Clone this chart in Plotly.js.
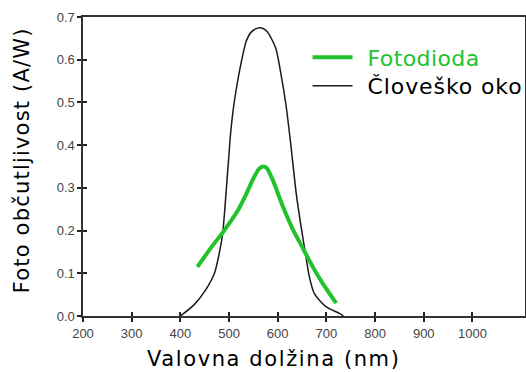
<!DOCTYPE html>
<html><head><meta charset="utf-8">
<script src="https://cdn.plot.ly/plotly-3.0.1.min.js"></script>
<style>html,body{margin:0;padding:0;background:#fff;}#chart{width:526px;height:372px;}</style>
</head><body><div id="chart"></div>
<script>
// Človeško oko (human eye) sensitivity curve
const eyeWavelength = [400, 428, 452, 470, 480, 487, 491, 495, 499, 503, 508, 514, 524, 535, 545, 559, 570, 579, 596, 607, 617, 627, 638, 648, 658, 665, 675, 699, 727, 735];
const eyeValue      = [0.0, 0.026, 0.061, 0.100, 0.147, 0.194, 0.245, 0.305, 0.365, 0.425, 0.478, 0.525, 0.588, 0.642, 0.664, 0.674, 0.673, 0.665, 0.627, 0.564, 0.494, 0.400, 0.287, 0.209, 0.139, 0.092, 0.053, 0.022, 0.006, 0.0];
// Fotodioda (photodiode) responsivity
const diodeWavelength = [435, 463, 490, 517, 535, 550, 562, 570, 577, 590, 610, 631, 651, 672, 692, 720];
const diodeValue      = [0.115, 0.160, 0.200, 0.245, 0.285, 0.322, 0.345, 0.350, 0.347, 0.318, 0.258, 0.203, 0.160, 0.115, 0.077, 0.030];
const xTicks = [200, 300, 400, 500, 600, 700, 800, 900, 1000];
const yTicks = [0.0, 0.1, 0.2, 0.3, 0.4, 0.5, 0.6, 0.7];
const names = ['Fotodioda', 'Človeško oko'];
const xTitle = 'Valovna dolžina (nm)';
const yTitle = 'Foto občutljivost (A/W)';

const green = '#22c22c';
const traces = [
  {x: eyeWavelength, y: eyeValue, name: names[1], type: 'scatter', mode: 'lines',
   line: {color: '#1a1a1a', width: 1.5, shape: 'spline', smoothing: 0.7}, legendrank: 2},
  {x: diodeWavelength, y: diodeValue, name: names[0], type: 'scatter', mode: 'lines',
   line: {color: green, width: 4, shape: 'spline', smoothing: 0.5}, legendrank: 1},
  // invisible trace to carry the inside ticks
  {x: [200], y: [0], xaxis: 'x2', yaxis: 'y2', mode: 'markers', marker: {opacity: 0}, showlegend: false, hoverinfo: 'skip'}
];
const tickFont = {family: 'Liberation Sans, Arial, sans-serif', size: 13, color: '#444'};
const layout = {
  width: 526, height: 372,
  margin: {l: 83, r: 1, t: 17, b: 56},
  paper_bgcolor: '#fff', plot_bgcolor: '#fff',
  showlegend: true,
  legend: {x: 0.508, y: 0.935, xanchor: 'left', yanchor: 'top', bgcolor: 'rgba(0,0,0,0)',
           font: {family: 'DejaVu Sans, sans-serif', size: 22, color: '#000'}, itemwidth: 40, tracegroupgap: 0},
  xaxis: {range: [200, 1108], tickvals: xTicks, ticktext: xTicks.map(String), ticks: 'outside', ticklen: 4,
          tickwidth: 2, tickcolor: '#222', showline: true, linecolor: '#333', linewidth: 1.6, mirror: true,
          showgrid: false, zeroline: false, tickfont: tickFont, ticklabelstandoff: 1},
  yaxis: {range: [0, 0.7], tickvals: yTicks, tickformat: '.1f', ticks: 'outside', ticklen: 4,
          tickwidth: 2, tickcolor: '#222', showline: true, linecolor: '#333', linewidth: 1.6, mirror: true,
          showgrid: false, zeroline: false, tickfont: tickFont},
  xaxis2: {overlaying: 'x', matches: 'x', range: [200, 1108], tickvals: xTicks.slice(1), ticks: 'inside', ticklen: 4,
           tickwidth: 2, tickcolor: '#222', showticklabels: false, showgrid: false, zeroline: false, showline: false},
  yaxis2: {overlaying: 'y', anchor: 'x2', range: [0, 0.7], tickvals: yTicks.slice(1, 7), ticks: 'inside', ticklen: 4,
           tickwidth: 2, tickcolor: '#222', showticklabels: false, showgrid: false, zeroline: false, showline: false},
  annotations: [
    {text: xTitle, xref: 'paper', yref: 'paper', x: (273 - 83) / 442, y: -0.143, xanchor: 'center', yanchor: 'middle',
     showarrow: false, font: {family: 'DejaVu Sans, sans-serif', size: 21, color: '#000'}},
    {text: yTitle, xref: 'paper', yref: 'paper', x: (22 - 83) / 442, y: 0.52, xanchor: 'center', yanchor: 'middle',
     textangle: -90, showarrow: false, font: {family: 'DejaVu Sans, sans-serif', size: 21, color: '#000'}}
  ]
};
Plotly.newPlot('chart', traces, layout, {staticPlot: true}).then(() => {
  document.querySelectorAll('.legend [clip-path]').forEach(el => el.removeAttribute('clip-path'));
  document.querySelectorAll('.legendtext').forEach(t => {
    t.setAttribute('x', (+t.getAttribute('x') || 0) + 10);
    if (t.textContent === names[0]) { t.style.fill = green; t.style.letterSpacing = '0.4px'; }
    if (t.textContent === names[1]) {
      t.style.letterSpacing = '0.9px';
      const g = t.closest('.traces');
      const m = /translate\(([-\d.]+),\s*([-\d.]+)\)/.exec(g.getAttribute('transform') || '');
      if (m) g.setAttribute('transform', 'translate(' + m[1] + ',' + (+m[2] - 3) + ')');
    }
  });
  document.querySelectorAll('.annotation-text').forEach(t => {
    if (t.textContent === xTitle) t.style.letterSpacing = '1.6px';
    if (t.textContent === yTitle) t.style.letterSpacing = '1.2px';
  });
});
</script></body></html>
